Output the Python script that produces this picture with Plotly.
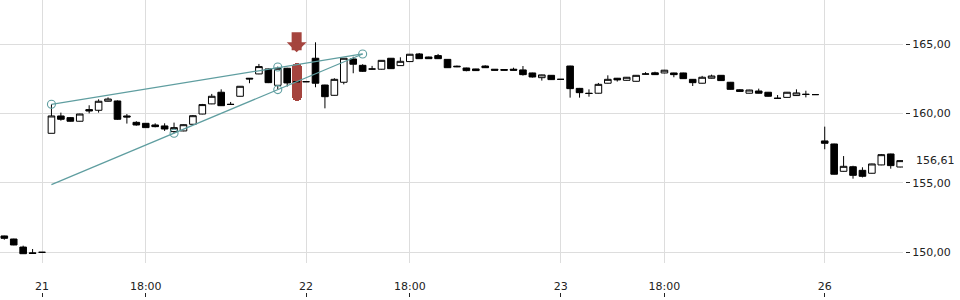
import plotly.graph_objects as go

# ---- data (candle index, OHLC) ----
candle_idx = list(range(96))
opens = [151.18,150.96,150.38,149.96,150.00,
         158.58,159.83,159.71,159.45,160.29,160.24,160.89,160.91,159.83,159.37,
         159.30,159.18,159.11,158.70,158.75,159.23,159.97,160.70,161.54,160.67,
         161.25,162.55,162.86,163.22,162.04,163.27,162.30,162.30,163.99,162.06,
         161.32,162.26,163.94,163.48,163.22,163.20,163.99,163.46,163.75,164.30,
         164.08,164.18,163.91,163.42,163.29,163.22,163.43,163.20,163.18,163.20,
         163.15,162.93,162.59,162.76,162.47,163.43,161.82,161.47,161.47,162.19,
         162.55,162.40,162.33,162.84,162.94,162.93,162.93,162.93,162.47,162.19,
         162.55,162.76,162.26,161.72,161.47,161.63,161.54,161.11,161.17,161.30,
         161.40,161.37,158.03,157.81,155.84,156.17,155.91,155.70,156.30,157.09,
         156.15]
highs = [151.20,150.98,150.48,150.24,150.00,
         160.67,160.07,159.75,159.99,160.60,161.03,161.17,160.95,159.97,159.45,
         159.32,159.30,159.30,159.35,159.22,159.90,160.70,161.42,161.75,160.84,
         161.99,162.56,163.58,163.25,163.39,163.30,162.30,162.30,165.14,162.08,
         162.55,164.00,164.10,163.56,163.44,163.85,164.00,164.06,164.30,164.37,
         164.10,164.30,163.93,163.46,163.31,163.23,163.48,163.21,163.19,163.31,
         163.43,162.95,162.81,162.78,162.48,163.45,161.85,161.75,162.21,162.76,
         162.57,162.64,162.78,162.99,163.02,163.15,162.95,162.95,162.49,162.72,
         162.81,162.78,162.28,161.76,161.72,161.80,161.56,161.34,161.56,161.75,
         161.65,161.38,159.06,157.83,156.94,156.24,156.13,156.39,157.09,157.11,
         156.63]
lows = [150.91,150.51,149.88,149.90,150.00,
        158.58,159.49,159.42,159.43,160.02,160.07,160.87,159.55,159.28,159.13,
        158.97,159.01,158.75,158.58,158.73,159.20,159.95,160.68,160.55,160.65,
        161.23,162.19,162.84,162.20,161.75,161.95,162.30,162.30,161.90,160.38,
        161.30,162.11,162.91,163.00,163.20,163.18,163.22,163.44,163.73,163.94,
        163.94,163.94,163.29,163.35,163.05,163.08,163.29,163.12,163.12,163.12,
        162.74,162.60,162.38,162.43,162.46,161.15,161.15,161.22,161.45,162.17,
        162.31,162.38,162.31,162.82,162.79,162.91,162.62,162.50,161.99,162.17,
        162.53,162.36,161.73,161.58,161.45,161.45,161.23,161.10,161.15,161.28,
        161.17,161.36,157.43,155.61,155.82,155.31,155.40,155.68,156.28,156.03,
        156.13]
closes = [151.01,150.53,149.90,149.92,150.00,
          159.83,159.59,159.45,159.97,160.19,160.89,161.05,159.59,159.76,159.18,
          158.99,159.06,158.89,158.99,159.20,159.85,160.65,161.25,160.57,160.66,
          161.97,162.50,163.39,162.23,163.27,162.21,162.30,162.30,162.19,161.22,
          162.47,163.99,163.56,163.05,163.21,163.84,163.24,163.77,164.28,163.96,
          163.96,163.96,163.31,163.38,163.10,163.10,163.31,163.13,163.13,163.13,
          162.81,162.64,162.79,162.45,162.47,161.80,161.51,161.45,162.11,162.47,
          162.43,162.62,162.76,162.86,162.81,163.13,162.81,162.52,162.23,162.62,
          162.71,162.38,161.75,161.60,161.70,161.47,161.25,161.10,161.54,161.49,
          161.38,161.37,157.86,155.63,156.20,155.55,155.48,156.37,157.04,156.25,
          156.61]

# ---- axis ticks ----
x_tick_idx = [4, 15, 32, 43, 59, 70, 87]
x_tick_text = ["21", "18:00", "22", "18:00", "23", "18:00", "26"]
y_tick_vals = [150, 155, 160, 165]
last_price = closes[-1]

# ---- trendlines and anchor points ----
trend_upper_idx = [5, 38]
trend_upper_val = [160.67, 164.30]
trend_lower_idx = [5, 38]
trend_lower_val = [154.88, 164.30]
anchor_idx = [5, 29, 18, 29, 38]
anchor_val = [160.67, 163.36, 158.58, 161.73, 164.30]

# ---- signal marker ----
signal_idx = [31]
signal_low = [160.91]
signal_high = [163.63]

TEAL = "#5f9ea0"
RED = "#a5443e"
GRID = "#dddddd"
FONT = dict(family="DejaVu Sans", size=11, color="#222222")

fig = go.Figure()

fig.add_trace(go.Bar(
    x=signal_idx, base=signal_low,
    y=[h - l for h, l in zip(signal_high, signal_low)],
    width=1.05, marker=dict(color=RED, cornerradius=5, line=dict(width=0)),
    hoverinfo="skip", showlegend=False))

fig.add_trace(go.Candlestick(
    x=candle_idx, open=opens, high=highs, low=lows, close=closes,
    increasing=dict(line=dict(color="#000000", width=1), fillcolor="#ffffff"),
    decreasing=dict(line=dict(color="#000000", width=1), fillcolor="#000000"),
    whiskerwidth=0, showlegend=False, hoverinfo="skip"))

fig.add_trace(go.Scatter(x=trend_upper_idx, y=trend_upper_val, mode="lines",
                         line=dict(color=TEAL, width=1.2), showlegend=False, hoverinfo="skip"))
fig.add_trace(go.Scatter(x=trend_lower_idx, y=trend_lower_val, mode="lines",
                         line=dict(color=TEAL, width=1.2), showlegend=False, hoverinfo="skip"))
fig.add_trace(go.Scatter(x=anchor_idx, y=anchor_val, mode="markers",
                         marker=dict(symbol="circle-open", size=8, color=TEAL, line=dict(width=1.1)),
                         showlegend=False, hoverinfo="skip"))

fig.add_annotation(x=signal_idx[0], y=signal_high[0], xref="x", yref="y", text="",
                   showarrow=True, arrowhead=1, arrowsize=0.33, arrowwidth=10,
                   arrowcolor=RED, ax=0, ay=-32.5, standoff=11)

fig.add_annotation(x=1, y=last_price, xref="paper", yref="y",
                   text=f"{last_price:.2f}".replace(".", ","), showarrow=False,
                   xanchor="left", yanchor="middle", xshift=9, font=FONT)

fig.update_layout(
    width=960, height=300,
    margin=dict(l=0, r=55, t=0, b=3),
    paper_bgcolor="white", plot_bgcolor="white",
    separators=",.",
    font=FONT,
    showlegend=False,
    bargap=0,
    boxgap=0.3, boxgroupgap=0,
    xaxis=dict(
        range=[-0.456, 95.30], domain=[0, 903 / 905],
        anchor="free", position=0,
        tickmode="array", tickvals=x_tick_idx, ticktext=x_tick_text,
        ticks="inside", ticklen=4, tickcolor="#222222", tickwidth=1,
        ticklabelposition="inside", ticklabelstandoff=0,
        showgrid=True, gridcolor=GRID, gridwidth=1,
        showline=False, zeroline=False,
        rangeslider=dict(visible=False),
        tickfont=FONT,
    ),
    yaxis=dict(
        range=[149.23, 168.19], domain=[34 / 297, 1],
        side="right", anchor="free", position=1,
        tickmode="array", tickvals=y_tick_vals, tickformat=".2f",
        ticks="outside", ticklen=4, tickcolor="#222222", tickwidth=1,
        showgrid=True, gridcolor=GRID, gridwidth=1,
        showline=False, zeroline=False,
        tickfont=FONT,
    ),
)

fig.write_html("out.html")
